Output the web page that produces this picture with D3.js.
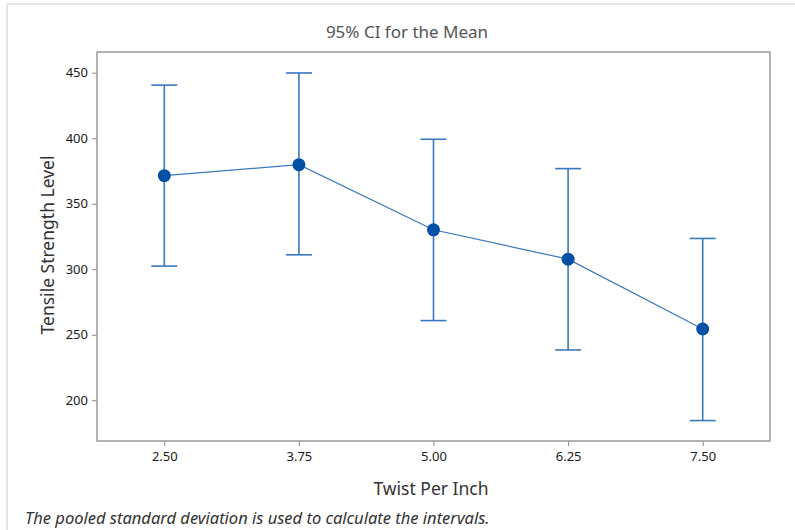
<!DOCTYPE html>
<html>
<head>
<meta charset="utf-8">
<script src="https://cdn.jsdelivr.net/npm/d3@7"></script>
<style>
  body { margin: 0; background: #fff; }
  text { font-family: "Noto Sans", "Open Sans", sans-serif; }
</style>
</head>
<body>
<svg id="chart" width="795" height="530"></svg>
<script>
const twist = [2.5, 3.75, 5.0, 6.25, 7.5];
const means = [371.4, 379.8, 330.1, 307.7, 254.4];
const lower = [302.4, 311.0, 260.8, 238.4, 184.5];
const upper = [440.5, 449.8, 399.2, 376.8, 323.5];
const xTicks = [2.5, 3.75, 5.0, 6.25, 7.5];
const yTicks = [200, 250, 300, 350, 400, 450];

const svg = d3.select("#chart");
const plot = { left: 97, right: 770, top: 52, bottom: 441 };

const x = d3
  .scaleLinear()
  .domain([1.875, 8.125])
  .range([plot.left, plot.right]);

const y = d3
  .scaleLinear()
  .domain([168.9, 465.8])
  .range([plot.bottom, plot.top]);

// outer panel edges
svg.append("line")
  .attr("x1", 7).attr("x2", 795).attr("y1", 4).attr("y2", 4)
  .attr("stroke", "#dcdcdc").attr("stroke-width", 1.5);
svg.append("line")
  .attr("x1", 7).attr("x2", 7).attr("y1", 4).attr("y2", 530)
  .attr("stroke", "#dcdcdc").attr("stroke-width", 1.5);

// axes
const xAxis = svg.append("g")
  .attr("transform", `translate(0,${plot.bottom})`)
  .call(d3.axisBottom(x).tickValues(xTicks).tickFormat(d3.format(".2f")).tickSizeOuter(0).tickSize(5).tickPadding(6));
const yAxis = svg.append("g")
  .attr("transform", `translate(${plot.left},0)`)
  .call(d3.axisLeft(y).tickValues(yTicks).tickSizeOuter(0).tickSize(5).tickPadding(4));

[xAxis, yAxis].forEach(a => {
  a.select(".domain").remove();
  a.selectAll(".tick line").attr("stroke", "#8a8a8a");
  a.selectAll(".tick text")
    .attr("fill", "#1a1a1a")
    .style("font-size", "13px");
});

// frame
svg.append("rect")
  .attr("x", plot.left).attr("y", plot.top)
  .attr("width", plot.right - plot.left)
  .attr("height", plot.bottom - plot.top)
  .attr("fill", "none")
  .attr("stroke", "#9a9a9a")
  .attr("stroke-width", 1.5);

const blue = "#3a78c2";
const capHalf = 13;

const bars = svg.append("g")
  .selectAll("g")
  .data(twist)
  .enter()
  .append("g");

bars.append("line")
  .attr("x1", d => x(d)).attr("x2", d => x(d))
  .attr("y1", (d, i) => y(lower[i])).attr("y2", (d, i) => y(upper[i]))
  .attr("stroke", blue).attr("stroke-width", 1.6);
bars.append("line")
  .attr("x1", d => x(d) - capHalf).attr("x2", d => x(d) + capHalf)
  .attr("y1", (d, i) => y(upper[i])).attr("y2", (d, i) => y(upper[i]))
  .attr("stroke", blue).attr("stroke-width", 1.6);
bars.append("line")
  .attr("x1", d => x(d) - capHalf).attr("x2", d => x(d) + capHalf)
  .attr("y1", (d, i) => y(lower[i])).attr("y2", (d, i) => y(lower[i]))
  .attr("stroke", blue).attr("stroke-width", 1.6);

const line = d3.line()
  .x(d => x(d))
  .y((d, i) => y(means[i]));

svg.append("path")
  .datum(twist)
  .attr("d", line)
  .attr("fill", "none")
  .attr("stroke", blue)
  .attr("stroke-width", 1.2);

svg.append("g")
  .selectAll("circle")
  .data(twist)
  .enter()
  .append("circle")
  .attr("cx", d => x(d))
  .attr("cy", (d, i) => y(means[i]))
  .attr("r", 6.5)
  .attr("fill", "#0051a5");

// texts
svg.append("text")
  .attr("x", 407).attr("y", 38)
  .attr("text-anchor", "middle")
  .attr("fill", "#555")
  .style("font-size", "17px")
  .text("95% CI for the Mean");

svg.append("text")
  .attr("transform", `translate(54,245) rotate(-90)`)
  .attr("text-anchor", "middle")
  .attr("fill", "#333")
  .style("font-size", "17.5px")
  .text("Tensile Strength Level");

svg.append("text")
  .attr("x", 431).attr("y", 495)
  .attr("text-anchor", "middle")
  .attr("fill", "#333")
  .style("font-size", "17.5px")
  .text("Twist Per Inch");

svg.append("text")
  .attr("x", 25).attr("y", 524)
  .attr("fill", "#333")
  .style("font-size", "16.5px")
  .style("font-style", "italic")
  .text("The pooled standard deviation is used to calculate the intervals.");
</script>
</body>
</html>
